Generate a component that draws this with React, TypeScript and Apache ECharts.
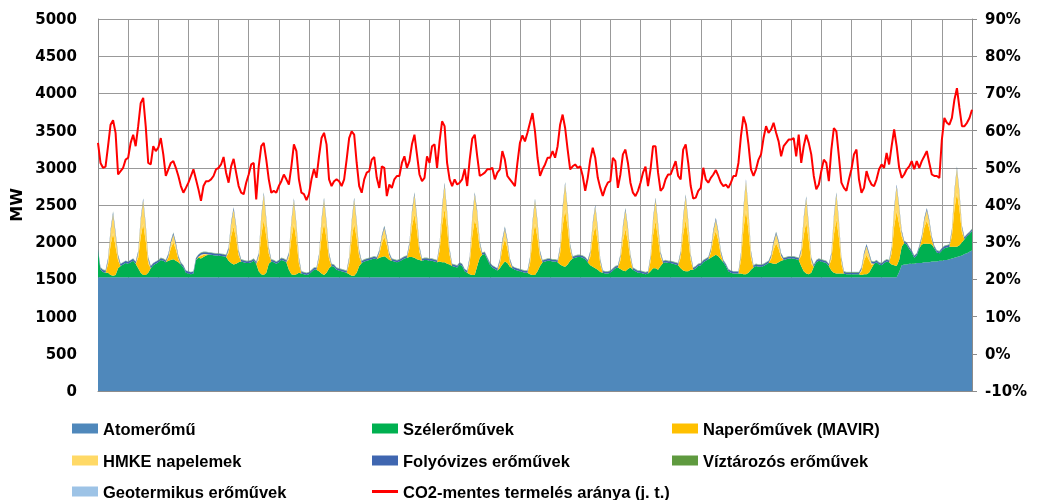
import React, { useEffect, useRef } from "react";
import * as echarts from "echarts";

// 29 days, 2-hour resolution (12 points per day), last day has a closing point.
const nuclear: number[][] = [
  [1530,1530,1530,1530,1530,1530,1530,1530,1530,1530,1530,1530],
  [1530,1530,1530,1530,1530,1530,1530,1530,1530,1530,1530,1530],
  [1530,1530,1530,1530,1530,1530,1530,1530,1530,1530,1530,1530],
  [1530,1530,1530,1530,1530,1530,1530,1530,1530,1530,1530,1530],
  [1530,1530,1530,1530,1530,1530,1530,1530,1530,1530,1530,1530],
  [1530,1530,1530,1530,1530,1530,1530,1530,1530,1530,1530,1530],
  [1530,1530,1530,1530,1530,1530,1530,1530,1530,1530,1530,1530],
  [1530,1530,1530,1530,1530,1530,1530,1530,1530,1530,1530,1530],
  [1530,1530,1530,1530,1530,1530,1530,1530,1530,1530,1530,1530],
  [1530,1530,1530,1530,1530,1530,1530,1530,1530,1530,1530,1530],
  [1530,1530,1530,1530,1530,1530,1530,1530,1530,1530,1530,1530],
  [1530,1530,1530,1530,1530,1530,1530,1530,1530,1530,1530,1530],
  [1530,1530,1530,1530,1530,1530,1530,1530,1530,1530,1530,1530],
  [1530,1530,1530,1530,1530,1530,1530,1530,1530,1530,1530,1530],
  [1530,1530,1530,1530,1530,1530,1530,1530,1530,1530,1530,1530],
  [1530,1530,1530,1530,1530,1530,1530,1530,1530,1530,1530,1530],
  [1530,1530,1530,1530,1530,1530,1530,1530,1530,1530,1530,1530],
  [1530,1530,1530,1530,1530,1530,1530,1530,1530,1530,1530,1530],
  [1530,1530,1530,1530,1530,1530,1530,1530,1530,1530,1530,1530],
  [1530,1530,1530,1530,1530,1530,1530,1530,1530,1530,1530,1530],
  [1530,1530,1530,1530,1530,1530,1530,1530,1530,1530,1530,1530],
  [1530,1530,1530,1530,1530,1530,1530,1530,1530,1530,1530,1530],
  [1530,1530,1530,1530,1530,1530,1530,1530,1530,1530,1530,1530],
  [1530,1530,1530,1530,1530,1530,1530,1530,1530,1530,1530,1530],
  [1530,1530,1530,1530,1530,1530,1530,1530,1530,1530,1530,1530],
  [1530,1530,1530,1530,1530,1530,1530,1530,1530,1530,1530,1530],
  [1530,1530,1530,1530,1530,1530,1530,1600,1690,1700,1700,1710],
  [1710,1710,1720,1720,1720,1730,1730,1730,1740,1740,1740,1750],
  [1750,1760,1760,1770,1780,1790,1800,1810,1820,1840,1850,1870,1890],
];

const wind: number[][] = [
  [350,100,70,60,60,30,20,30,120,150,170,190],
  [180,200,220,180,120,60,30,30,60,120,160,180],
  [200,230,220,200,220,230,240,220,200,170,130,60],
  [50,40,50,230,260,250,270,290,300,300,295,290],
  [290,285,280,270,220,190,170,180,200,210,200,190],
  [190,200,220,180,80,40,30,60,180,210,200,180],
  [200,230,220,200,100,40,30,40,60,50,40,30],
  [40,70,100,100,80,50,30,60,120,150,140,100],
  [90,80,70,60,40,20,20,60,150,190,210,220],
  [230,240,250,240,260,270,280,260,230,220,210,200],
  [210,230,250,260,270,270,260,240,230,220,230,230],
  [220,220,210,200,210,200,200,180,170,150,140,130],
  [170,150,80,60,40,30,30,150,260,300,310,240],
  [170,130,110,90,120,170,210,190,140,120,100,90],
  [80,70,60,60,40,30,30,80,150,200,210,220],
  [220,210,210,200,170,150,140,170,220,250,260,270],
  [270,260,240,200,160,140,120,100,70,60,50,50],
  [60,90,120,130,110,90,80,110,130,100,80,60],
  [60,50,40,50,80,120,120,100,150,190,200,190],
  [190,180,170,160,120,90,80,80,100,100,120,150],
  [160,200,220,240,260,280,300,280,240,200,150,80],
  [60,50,50,50,50,40,40,60,100,130,150,140],
  [140,150,170,190,190,180,180,200,220,230,240,250],
  [250,250,240,230,150,80,50,40,60,140,200,220],
  [210,200,190,150,90,60,50,50,50,50,40,40],
  [40,40,40,40,30,40,40,60,120,180,200,170],
  [160,190,210,200,170,160,150,160,250,290,270,200],
  [150,80,100,200,250,250,250,250,230,180,120,100],
  [140,160,170,170,160,150,140,150,180,200,230,240,260],
];

const solarMavir: number[][] = [
  [0,0,0,0,114,400,573,380,104,0,0,0],
  [0,0,0,0,138,483,690,455,124,0,0,0],
  [0,0,0,0,45,159,228,152,41,0,0,0],
  [0,0,0,0,10,35,28,14,3,0,0,0],
  [0,0,0,0,104,359,511,338,93,0,0,0],
  [0,0,0,0,148,521,745,493,135,0,0,0],
  [0,0,0,0,138,483,690,455,124,0,0,0],
  [0,0,0,0,138,486,697,459,124,0,0,0],
  [0,0,0,0,141,493,704,466,128,0,0,0],
  [0,0,0,0,52,183,262,173,48,0,0,0],
  [0,0,0,0,117,411,587,386,107,0,0,0],
  [0,0,0,0,145,504,718,473,128,0,0,0],
  [0,0,0,0,148,521,745,493,135,0,0,0],
  [0,0,0,0,62,214,304,200,55,0,0,0],
  [0,0,0,0,136,480,688,452,122,0,0,0],
  [0,0,0,0,152,535,766,507,138,0,0,0],
  [0,0,0,0,112,396,570,376,102,0,0,0],
  [0,0,0,0,114,397,566,373,104,0,0,0],
  [0,0,0,0,128,445,635,417,114,0,0,0],
  [0,0,0,0,140,486,692,458,126,0,0,0],
  [0,0,0,0,66,228,324,214,59,0,0,0],
  [0,0,0,0,173,604,863,569,155,0,0,0],
  [0,0,0,0,55,193,276,183,48,0,0,0],
  [0,0,0,0,137,484,695,456,122,0,0,0],
  [0,0,0,0,145,511,731,483,131,0,0,0],
  [0,0,0,0,50,180,260,170,46,0,0,0],
  [0,0,0,0,148,518,738,486,135,0,0,0],
  [0,0,0,0,62,217,311,204,55,0,0,0],
  [0,0,0,0,145,507,725,480,131,0,0,0,0],
];

const solarHmke: number[][] = [
  [0,0,0,0,51,180,257,170,46,0,0,0],
  [0,0,0,0,62,217,310,205,56,0,0,0],
  [0,0,0,0,20,71,102,68,19,0,0,0],
  [0,0,0,0,5,15,12,6,2,0,0,0],
  [0,0,0,0,46,161,229,152,42,0,0,0],
  [0,0,0,0,67,234,335,222,60,0,0,0],
  [0,0,0,0,62,217,310,205,56,0,0,0],
  [0,0,0,0,62,219,313,206,56,0,0,0],
  [0,0,0,0,64,222,316,209,57,0,0,0],
  [0,0,0,0,23,82,118,77,22,0,0,0],
  [0,0,0,0,53,184,263,174,48,0,0,0],
  [0,0,0,0,65,226,322,212,57,0,0,0],
  [0,0,0,0,67,234,335,222,60,0,0,0],
  [0,0,0,0,28,96,136,90,25,0,0,0],
  [0,0,0,0,61,215,308,203,55,0,0,0],
  [0,0,0,0,68,240,344,228,62,0,0,0],
  [0,0,0,0,50,178,255,168,45,0,0,0],
  [0,0,0,0,51,178,254,167,46,0,0,0],
  [0,0,0,0,57,200,285,188,51,0,0,0],
  [0,0,0,0,63,218,311,206,57,0,0,0],
  [0,0,0,0,29,102,146,96,26,0,0,0],
  [0,0,0,0,77,271,387,256,70,0,0,0],
  [0,0,0,0,25,87,124,82,22,0,0,0],
  [0,0,0,0,61,217,312,204,55,0,0,0],
  [0,0,0,0,65,229,329,217,59,0,0,0],
  [0,0,0,0,22,80,117,76,21,0,0,0],
  [0,0,0,0,67,232,332,219,60,0,0,0],
  [0,0,0,0,28,98,139,91,25,0,0,0],
  [0,0,0,0,65,228,325,215,59,0,0,0,0],
];

// daily values of the small sources (MW)
const riverHydroDaily = [26,26,25,25,25,24,24,24,24,24,25,25,25,25,24,24,24,24,24,24,24,25,25,25,24,24,24,25,25];
const reservoirDaily = [6,6,6,6,6,6,6,6,6,6,6,6,6,6,6,6,6,6,6,6,6,6,6,6,6,6,6,6,6];
const geothermalDaily = [3,3,3,3,3,3,3,3,3,3,3,3,3,3,3,3,3,3,3,3,3,3,3,3,3,3,3,3,3];

// share of CO2-free generation (%), right axis
const co2Free: number[][] = [
  [56.7,51.3,50,50.3,55.8,61.6,62.8,59.4,48.2,49.1,50,52.2],
  [52.7,56.7,58.9,55.8,61.2,67.4,68.8,61.2,51.3,50.9,55.8,54.5],
  [55.4,58,53.6,47.8,49.6,51.3,51.8,50,47.8,45.1,43.3,44.6],
  [46,47.8,49.6,46.9,44.2,41.1,45.1,46.4,46.4,46.9,47.8,49.6],
  [50,50.9,52.9,48.7,46,50.4,52.4,48.7,45.1,43.3,42.9,46],
  [48.2,50.9,51.3,41.5,50.4,55.8,56.7,52.2,46.9,43.3,43.8,43.3],
  [45.1,46.4,48.2,46.9,45.5,50.4,56.3,54.5,46.9,43.3,42.9,41.3],
  [42.9,46.9,49.7,47.3,53.1,58,59.4,56.3,46.9,45.1,46.4,46.9],
  [46.4,45.1,46.9,52.2,58,59.8,58.9,51.3,45.1,43.3,46.9,48.7],
  [49.1,52.2,52.9,47.3,44.6,50.4,50,42.4,45.5,44.6,46.9,47.8],
  [47.8,51.3,53.1,50,51.8,56.3,58.9,53.6,48.2,46.4,47.3,53.1],
  [51.3,55.8,56.3,50,57.1,62.5,61.2,51.3,46.9,45.1,46.9,45.5],
  [46,46.9,49.7,45.1,52.2,57.8,58.9,53.1,47.8,48.2,48.7,49.6],
  [49.6,50,46.9,48.7,49.6,54.5,52.2,47.8,46.9,46,45.1,51.3],
  [56.7,58.7,57.1,59.4,62.1,64.7,59.8,52.7,47.8,49.6,50.9,52.7],
  [52.7,54.5,52.7,55.8,61.6,64.3,60.7,54.9,49.6,50.4,50.9,50],
  [50.4,47.8,43.8,47.3,52.2,55.4,52.7,47.3,44.6,42.4,44.6,46],
  [46.4,52.7,51.8,44.6,48.2,53.6,54.9,51.3,46,43.3,42.4,43.8],
  [46,48.7,50.3,45.1,49.6,55.8,55.8,48.7,43.8,44.6,46.9,48.2],
  [48.2,50,51.8,47.8,46.9,54.9,56.3,51.3,45.1,41.7,42,43.8],
  [44.6,50,46.9,46,47.3,48.2,49.4,47.8,46,45.1,45.5,44.6],
  [46,47.8,47.8,51.3,58.5,63.8,61.6,56.3,49.6,47.8,49.6,52.2],
  [53.6,58,61.2,59.4,60.3,62.1,59.4,57.1,53.1,55.8,56.7,57.6],
  [57.6,58,53.1,58.9,51.3,55.8,58.9,56.7,53.6,47.8,44.2,45.5],
  [49.1,52.2,51.3,46.4,54.9,60.7,59.8,53.1,46,44.6,43.8,46.9],
  [49.6,53.6,54.9,46.9,43.3,44.6,49.1,46.9,45.5,45.1,46.9,49.6],
  [50.9,50,54,50.9,55.8,60.3,55.8,50,47.3,48.2,49.6,50.4],
  [51.8,49.6,51.8,50,51.8,53.1,54.5,51.3,48.2,47.8,47.8,47.3],
  [57.6,63.4,62.1,61.6,63.4,68.3,71.4,66.1,61.2,61.2,62.1,63.4,65.6],
];

const seriesNames = [
  "Atomerőmű",
  "Szélerőművek",
  "Naperőművek (MAVIR)",
  "HMKE napelemek",
  "Folyóvizes erőművek",
  "Víztározós erőművek",
  "Geotermikus erőművek",
  "CO2-mentes termelés aránya (j. t.)",
];
const seriesColors = ["#4F88BB", "#00B050", "#FFC000", "#FFD966", "#3F66B0", "#5F9A3F", "#9DC3E6", "#FF0000"];

const POINTS_PER_DAY = 12;
const leftTicks = { min: 0, max: 5000, interval: 500 };
const rightTicks = { min: -10, max: 90, interval: 10 };

// legend placement: [series index, column x, row y]
const legendSlots: [number, number, number][] = [
  [0, 72, 420], [1, 372, 420], [2, 672, 420],
  [3, 72, 452], [4, 372, 452], [5, 672, 452],
  [6, 72, 483], [7, 372, 483],
];

function dailyToRows(daily: number[], shape: number[][]): number[][] {
  return shape.map((row, d) => row.map(() => daily[d]));
}

export default function App() {
  const ref = useRef<HTMLDivElement>(null);
  useEffect(() => {
    if (!ref.current) return;
    const chart = echarts.init(ref.current, null, { renderer: "svg" });
    const categories = nuclear.flat().map((_, i) => String(i));
    const areaSeries = (idx: number, rows: number[][]) => ({
      name: seriesNames[idx],
      type: "line",
      stack: "mw",
      data: rows.flat(),
      symbol: "none",
      showSymbol: false,
      color: seriesColors[idx],
      lineStyle: { width: 0 },
      areaStyle: { color: seriesColors[idx], opacity: 1 },
      z: 2,
    });
    const labelFont = { fontFamily: "DejaVu Sans", fontWeight: "bold" as const, fontSize: 15, color: "#000" };
    const legendText = { fontFamily: "Liberation Sans", fontWeight: "bold" as const, fontSize: 16.5, lineHeight: 16, color: "#000" };
    const dayTick = (i: number) => i % POINTS_PER_DAY === 0;
    chart.setOption({
      animation: false,
      grid: { left: 98, right: 67, top: 19, bottom: 109 },
      xAxis: {
        type: "category",
        data: categories,
        boundaryGap: false,
        axisLabel: { show: false },
        axisTick: { show: false },
        axisLine: { show: true, lineStyle: { color: "#8c8c8c" } },
        splitLine: { show: true, interval: dayTick, lineStyle: { color: "#999", width: 1 } },
      },
      yAxis: [
        {
          type: "value",
          ...leftTicks,
          name: "MW",
          nameLocation: "middle",
          nameGap: 72,
          nameRotate: 90,
          nameTextStyle: { ...labelFont, fontSize: 16 },
          axisLabel: { ...labelFont, margin: 21, formatter: (v: number) => String(v) },
          axisTick: { show: false },
          axisLine: { show: true, lineStyle: { color: "#8c8c8c" } },
          splitLine: { show: true, lineStyle: { color: "#999", width: 1 } },
        },
        {
          type: "value",
          ...rightTicks,
          position: "right",
          axisLabel: { ...labelFont, margin: 13, formatter: (v: number) => v + "%" },
          axisTick: { show: true, inside: false, length: 5, lineStyle: { color: "#8c8c8c" } },
          axisLine: { show: true, lineStyle: { color: "#8c8c8c" } },
          splitLine: { show: false },
        },
      ],
      legend: legendSlots.map(([idx, x, y]) => ({
        left: x,
        top: y,
        padding: 0,
        itemWidth: 26,
        itemHeight: idx === 7 ? 3 : 10,
        icon: "rect",
        selectedMode: false,
        textStyle: legendText,
        data: [seriesNames[idx]],
      })),
      series: [
        areaSeries(0, nuclear),
        areaSeries(1, wind),
        areaSeries(2, solarMavir),
        areaSeries(3, solarHmke),
        areaSeries(4, dailyToRows(riverHydroDaily, nuclear)),
        areaSeries(5, dailyToRows(reservoirDaily, nuclear)),
        areaSeries(6, dailyToRows(geothermalDaily, nuclear)),
        {
          name: seriesNames[7],
          type: "line",
          yAxisIndex: 1,
          data: co2Free.flat(),
          symbol: "none",
          showSymbol: false,
          color: seriesColors[7],
          lineStyle: { color: seriesColors[7], width: 2 },
          z: 5,
        },
      ],
    });
    return () => chart.dispose();
  }, []);
  return <div ref={ref} style={{ position: "fixed", left: 0, top: 0, width: 1039, height: 500 }} />;
}
